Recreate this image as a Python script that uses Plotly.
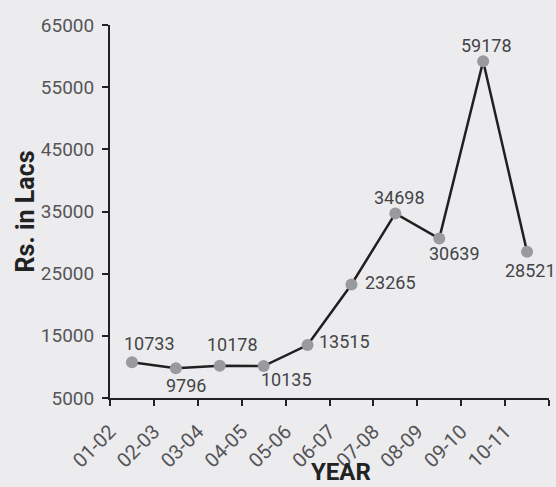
import plotly.graph_objects as go

years = ["01-02", "02-03", "03-04", "04-05", "05-06", "06-07", "07-08", "08-09", "09-10", "10-11"]
values = [10733, 9796, 10178, 10135, 13515, 23265, 34698, 30639, 59178, 28521]
y_ticks = [5000, 15000, 25000, 35000, 45000, 55000, 65000]

# label offsets in pixels (style only)
shifts = [(18, 19), (10, -17), (13, 21), (23, -13), (37, 4), (39, 2), (4, 16), (15, -15), (3, 16), (3, -19)]

xs = [i + 0.5 for i in range(len(years))]

fig = go.Figure()
fig.add_trace(go.Scatter(
    x=xs, y=values, mode="lines+markers",
    line=dict(color="#231f20", width=2.5),
    marker=dict(color="#9a9a9c", size=12),
    cliponaxis=False, hoverinfo="skip",
))

for x, v, (dx, dy) in zip(xs, values, shifts):
    fig.add_annotation(x=x, y=v, text=str(v), showarrow=False,
                       xshift=dx, yshift=dy,
                       font=dict(family="Roboto", size=18, color="#444447"))

fig.add_annotation(xref="paper", yref="paper", x=(26 - 110) / 438.7, y=0.5,
                   text="Rs. in Lacs", textangle=-90, showarrow=False,
                   xanchor="center", yanchor="middle",
                   font=dict(family="Roboto", size=25, color="#222", weight="bold"))
fig.add_annotation(xref="paper", yref="paper", x=(340.5 - 110) / 438.7, y=0,
                   yshift=-(457 - 398), borderpad=0,
                   text="YEAR", showarrow=False, xanchor="center", yanchor="top",
                   font=dict(family="Roboto", size=24, color="#222", weight="bold"))

fig.update_xaxes(
    range=[0, len(years)], tickmode="array",
    tickvals=list(range(len(years) + 1)), ticktext=years + [""],
    tickangle=-45, ticks="outside", ticklen=6, tickwidth=1.5, tickcolor="#222",
    showline=True, linecolor="#222", linewidth=2, showgrid=False, zeroline=False,
    tickfont=dict(family="Roboto", size=20, color="#555558"),
    ticklabelstandoff=6,
)
fig.update_yaxes(
    range=[5000, 65000], tickmode="array", tickvals=y_ticks,
    ticktext=[str(t) for t in y_ticks],
    ticks="outside", ticklen=6, tickwidth=1.5, tickcolor="#222",
    showline=True, linecolor="#222", linewidth=2, showgrid=False, zeroline=False,
    tickfont=dict(family="Roboto", size=19, color="#555558"),
    ticklabelstandoff=4,
)
fig.update_layout(
    width=556, height=487,
    margin=dict(l=110, r=7.3, t=25, b=89),
    paper_bgcolor="#ececef", plot_bgcolor="#ececef",
    showlegend=False,
)
fig.write_html("out.html")
